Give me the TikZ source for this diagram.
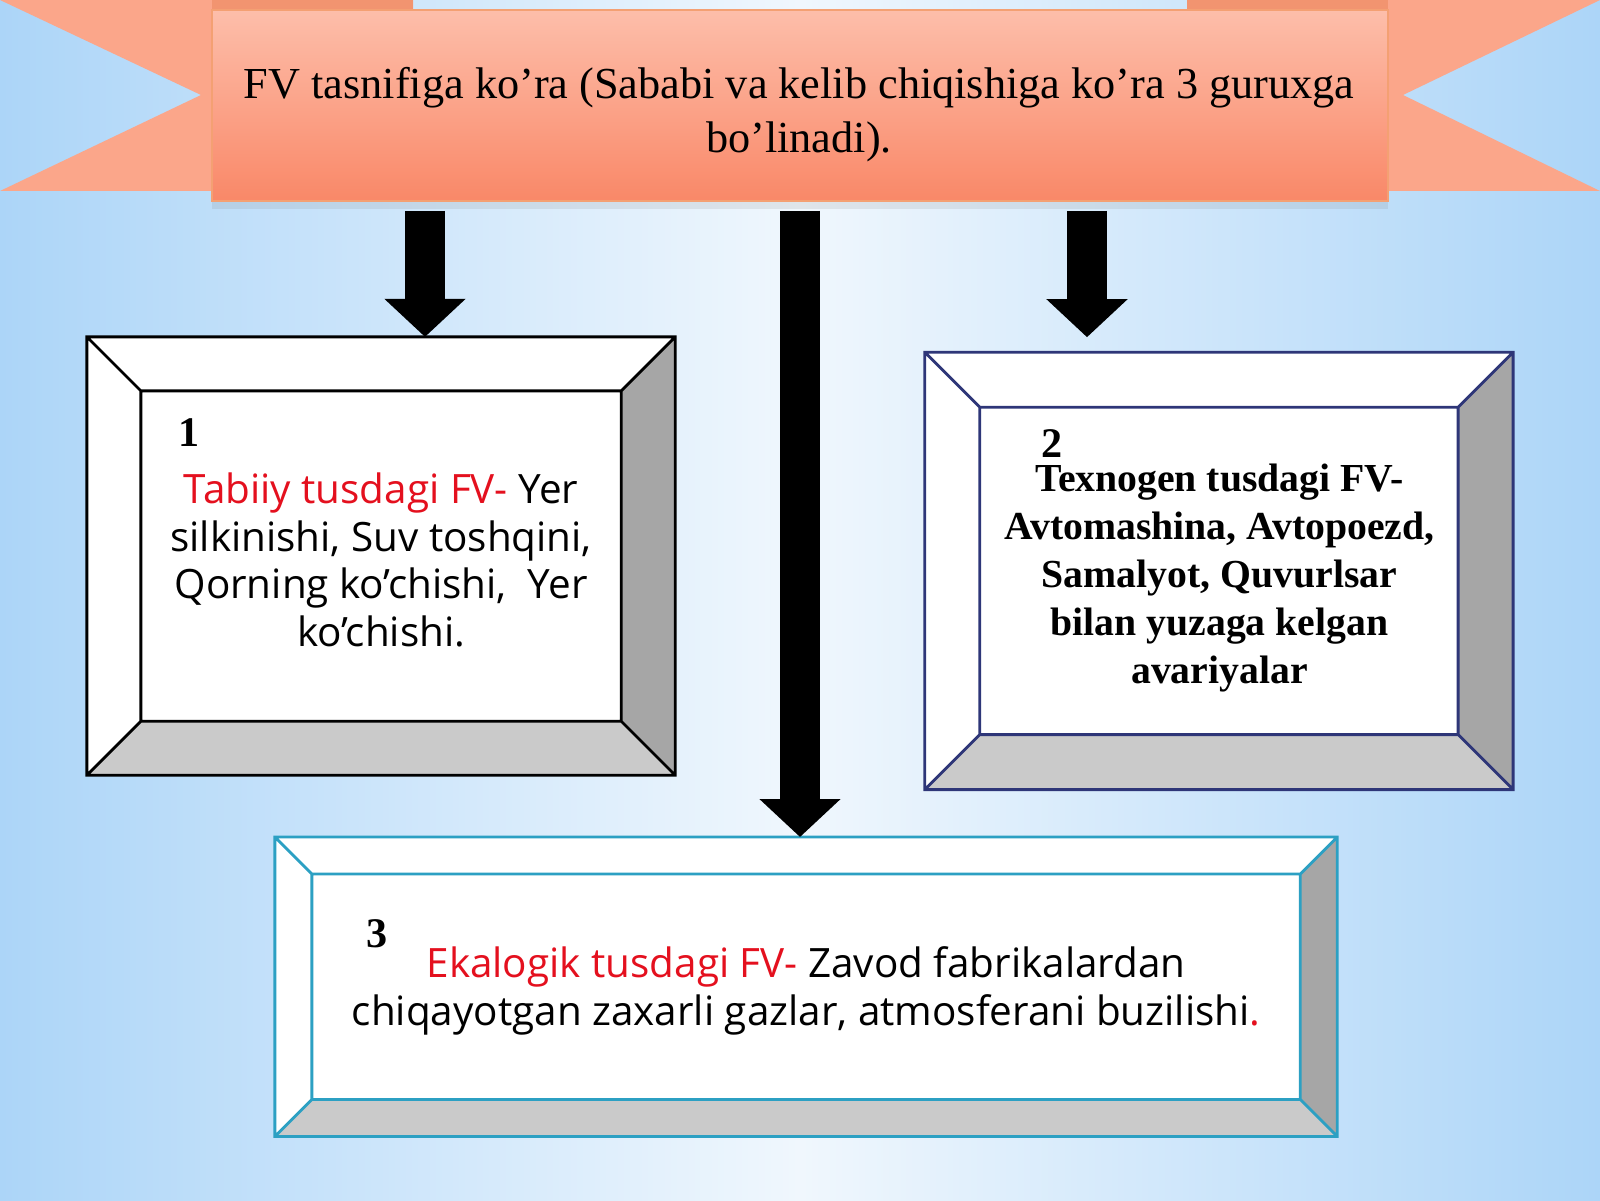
\documentclass[tikz,border=0pt]{standalone}
\usepackage{fontspec}
\setmainfont{Liberation Serif}
\newfontfamily\boxfont{Open Sans}
\usetikzlibrary{arrows.meta,shadows}
\definecolor{bgedge}{RGB}{172,213,248}
\definecolor{bgmid}{RGB}{240,247,253}
\definecolor{bantop}{RGB}{253,190,170}
\definecolor{banbot}{RGB}{249,136,104}
\definecolor{tailcol}{RGB}{251,166,138}
\definecolor{foldcol}{RGB}{242,148,112}
\definecolor{banline}{RGB}{244,160,115}
\definecolor{redtext}{RGB}{228,16,30}
\definecolor{navyline}{RGB}{46,54,120}
\definecolor{tealline}{RGB}{44,160,195}
\definecolor{graydark}{RGB}{166,166,166}
\definecolor{graylight}{RGB}{202,202,202}
\tikzset{
  frame/.style={fill=white,inner sep=0pt},
  blockarrow/.style={line width=0.4cm,-{Triangle[width=0.79cm,length=0.38cm]}},
  numtext/.style={font=\fontsize{12}{14}\selectfont\bfseries,inner sep=0pt},
  sanstext/.style={font=\boxfont\fontsize{11.5}{13.6}\selectfont,align=center,inner sep=0pt},
}
% bevelled frame round a node: name, depth, line colour
\newcommand{\bevelbox}[3]{%
  \coordinate (#1-inw) at ([shift={(#2,-#2)}]#1.north west);
  \coordinate (#1-ine) at ([shift={(-#2,-#2)}]#1.north east);
  \coordinate (#1-ise) at ([shift={(-#2,#2)}]#1.south east);
  \coordinate (#1-isw) at ([shift={(#2,#2)}]#1.south west);
  \fill[graydark] (#1.north east) -- (#1.south east) -- (#1-ise) -- (#1-ine) -- cycle;
  \fill[graylight] (#1.south west) -- (#1.south east) -- (#1-ise) -- (#1-isw) -- cycle;
  \draw[#3,line width=0.8pt] (#1.north west) rectangle (#1.south east) (#1-inw) rectangle (#1-ise)
    (#1.north west) -- (#1-inw) (#1.north east) -- (#1-ine)
    (#1.south east) -- (#1-ise) (#1.south west) -- (#1-isw);
}
\begin{document}
\begin{tikzpicture}
\useasboundingbox (0,0) rectangle (16,12);
\fill[left color=bgedge,right color=bgedge,middle color=bgmid] (0,0) rectangle (16,12);
% banner
\fill[tailcol] (0,12) -- (4.13,12) -- (4.13,10.09) -- (0,10.09) -- (2.01,11.05) -- cycle;
\fill[tailcol] (16,12) -- (11.87,12) -- (11.87,10.09) -- (16,10.09) -- (14.03,11.05) -- cycle;
\fill[foldcol] (2.12,12) rectangle (4.13,11.85);
\fill[foldcol] (11.87,12) rectangle (13.88,11.85);
\node[top color=bantop,bottom color=banbot,draw=banline,inner sep=0pt,minimum width=11.76cm,minimum height=1.91cm,
  drop shadow={shadow xshift=0pt,shadow yshift=-0.08cm,opacity=0.15}] (banner) at (8,10.944) {};
\node[font=\fontsize{12.6}{15.4}\selectfont,align=center,inner sep=0pt] (title) at (7.99,10.855)
  {FV tasnifiga ko’ra (Sababi va kelib chiqishiga ko’ra 3 guruxga\\bo’linadi).};
% boxes
\node[frame,minimum width=5.87cm,minimum height=4.37cm] (box1) at (3.811,6.439) {};
\bevelbox{box1}{0.54}{black}
\node[frame,minimum width=5.87cm,minimum height=4.36cm] (box2) at (12.189,6.291) {};
\bevelbox{box2}{0.55}{navyline}
\node[frame,minimum width=10.61cm,minimum height=2.98cm] (box3) at (8.061,2.133) {};
\bevelbox{box3}{0.37}{tealline}
% arrows
\coordinate (a1) at (4.25,9.89);
\coordinate (a2) at (8.0,9.89);
\coordinate (a3) at (10.87,9.89);
\draw[blockarrow] (a1) -- (a1 |- box1.north);
\draw[blockarrow] (a2) -- (a2 |- box3.north);
\draw[blockarrow] (a3) -- ([yshift=0.15cm]a3 |- box2.north);
% texts
\node[numtext,anchor=base west] (num1) at (1.78,7.54) {1};
\node[sanstext] (nat) at (3.811,6.40)
  {\textcolor{redtext}{Tabiiy tusdagi FV-} Yer\\silkinishi, Suv toshqini,\\Qorning ko’chishi,\ \ Yer\\ko’chishi.};
\node[numtext,anchor=base west] (num2) at (10.41,7.43) {2};
\node[font=\fontsize{11.3}{13.6}\selectfont\bfseries,align=center,inner sep=0pt] (tech) at (12.194,6.22)
  {Texnogen tusdagi FV-\\Avtomashina, Avtopoezd,\\Samalyot, Quvurlsar\\bilan yuzaga kelgan\\avariyalar};
\node[numtext,anchor=base west] (num3) at (3.66,2.53) {3};
\node[sanstext] (eco) at (8.061,2.09)
  {\textcolor{redtext}{Ekalogik tusdagi FV-} Zavod fabrikalardan\\chiqayotgan zaxarli gazlar, atmosferani buzilishi\textcolor{redtext}{.}};
\end{tikzpicture}
\end{document}
